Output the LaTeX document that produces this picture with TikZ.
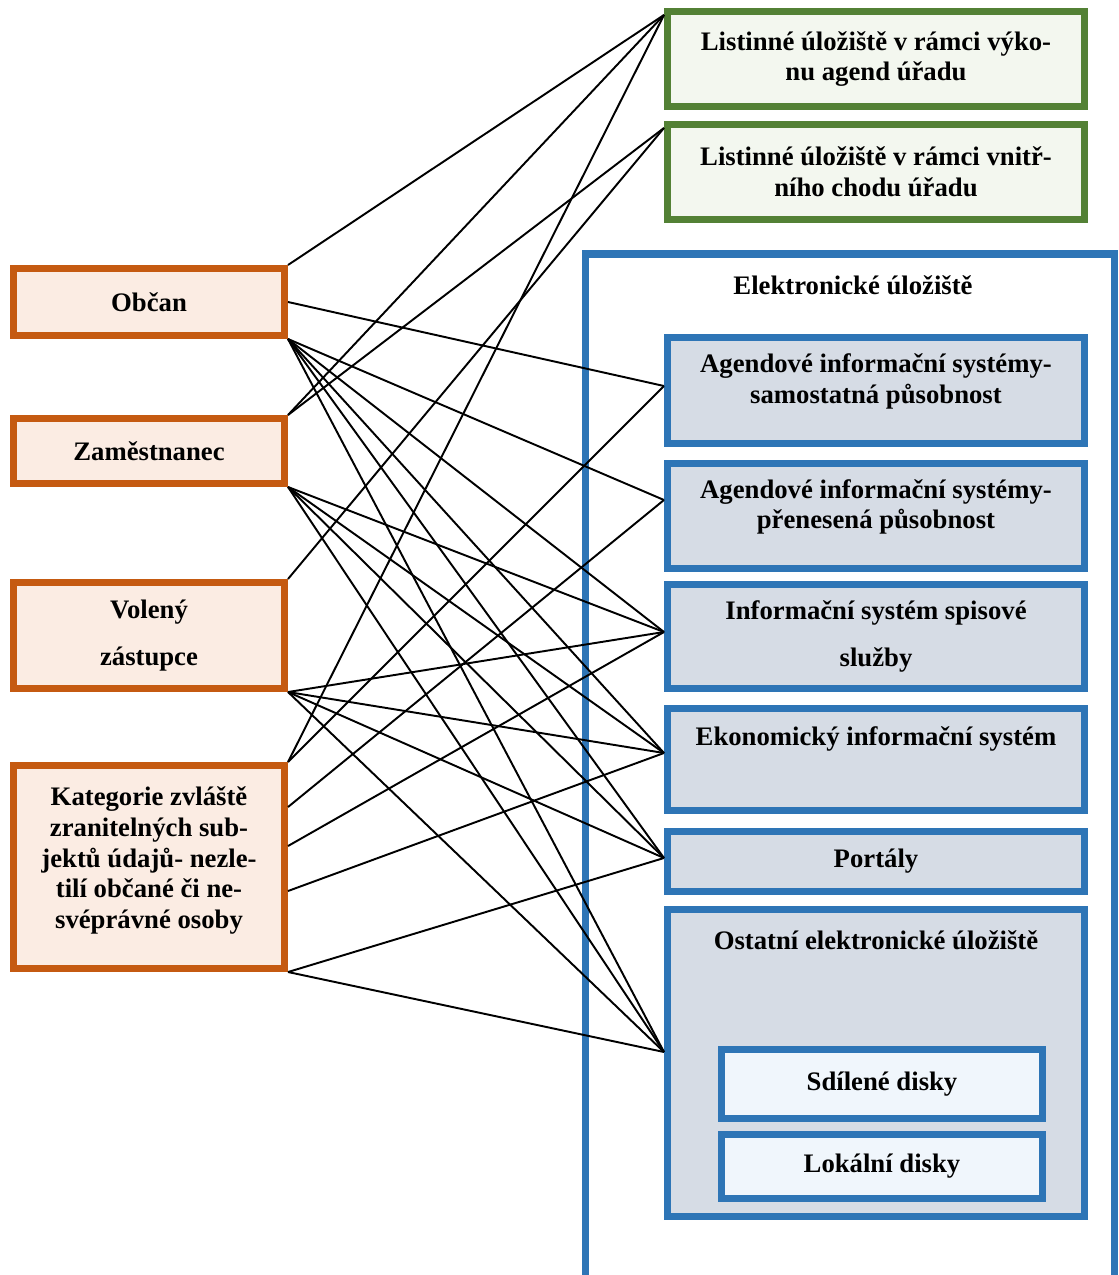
\documentclass[tikz,border=0pt]{standalone}
\usepackage{fontspec}
\setmainfont{Liberation Serif}
\definecolor{orbrd}{HTML}{C55A11}
\definecolor{orfill}{HTML}{FBECE3}
\definecolor{grbrd}{HTML}{538135}
\definecolor{grfill}{HTML}{F3F7EF}
\definecolor{blbrd}{HTML}{2E75B6}
\definecolor{blfill}{HTML}{D6DCE5}
\definecolor{dkfill}{HTML}{F0F6FC}

\begin{document}
\begin{tikzpicture}[
  every node/.style={font=\bfseries\fontsize{15.2}{17.4}\selectfont, align=center},
  person/.style={draw=orbrd, fill=orfill, line width=4pt, minimum width=5.42cm},
  paper/.style={draw=grbrd, fill=grfill, line width=4pt, minimum width=8.34cm, minimum height=1.9cm},
  system/.style={draw=blbrd, fill=blfill, line width=4pt, minimum width=8.34cm},
  disk/.style={draw=blbrd, fill=dkfill, line width=4pt, minimum width=6.42cm},
  link/.style={line width=1.1pt}]
\useasboundingbox (0,0) rectangle (22.36,-25.5);
\draw[draw=blbrd, line width=4pt] (11.71,-5.08) rectangle (22.29,-26.5);
\node at (17.06,-5.70) (elt) {Elektronické úložiště};

\node[person, minimum height=1.34cm] at (2.98,-6.04) (ob) {Občan};
\node[person, minimum height=1.30cm] at (2.98,-9.02) (zam) {Zaměstnanec};
\node[person, minimum height=2.12cm] at (2.98,-12.71) (vol) {Volený\\[9pt]zástupce};
\node[person, minimum height=4.06cm] at (2.98,-17.34) (kat) {Kategorie zvláště\\zranitelných sub-\\jektů údajů- nezle-\\tilí občané či ne-\\svéprávné osoby\\[-12pt]\strut};

\node[paper] at (17.52,-1.18) (l1) {Listinné úložiště v rámci výko-\\nu agend úřadu};
\node[paper] at (17.52,-3.44) (l2) {Listinné úložiště v rámci vnitř-\\ního chodu úřadu};

\node[system, minimum height=2.12cm] at (17.52,-7.81) (sam) {Agendové informační systémy-\\samostatná působnost\\[-9pt]\strut};
\node[system, minimum height=2.10cm] at (17.52,-10.32) (pre) {Agendové informační systémy-\\přenesená působnost\\[-9pt]\strut};
\node[system, minimum height=2.08cm] at (17.52,-12.73) (spi) {Informační systém spisové\\[9pt]služby};
\node[system, minimum height=2.04cm] at (17.52,-15.19) (eko) {Ekonomický informační systém\\[4pt]\strut};
\node[system, minimum height=1.20cm] at (17.52,-17.23) (por) {Portály};
\node[system, minimum height=6.14cm] at (17.52,-21.26) (ost) {};
\node at (17.52,-18.80) (ostt) {Ostatní elektronické úložiště};
\node[disk, minimum height=1.38cm] at (17.64,-21.68) (sdi) {Sdílené disky};
\node[disk, minimum height=1.28cm] at (17.64,-23.33) (lok) {Lokální disky};

\coordinate (l1-in) at ([yshift=-0.14cm]l1.north west);
\coordinate (l2-in) at ([yshift=-0.14cm]l2.north west);
\coordinate (sam-in) at ([yshift=0.09cm]sam.west);
\coordinate (pre-in) at ([yshift=0.32cm]pre.west);
\coordinate (spi-in) at ([yshift=0.09cm]spi.west);
\coordinate (eko-in) at ([yshift=0.13cm]eko.west);
\coordinate (por-in) at ([yshift=0.07cm]por.west);
\coordinate (ost-in) at ([yshift=0.22cm]ost.west);
\coordinate (kat-a) at ([yshift=1.2cm]kat.east);
\coordinate (kat-b) at ([yshift=0.42cm]kat.east);
\coordinate (kat-c) at ([yshift=-0.48cm]kat.east);

\foreach \a/\b in {ob.north east/l1-in, ob.east/sam-in,
  ob.south east/pre-in, ob.south east/spi-in, ob.south east/eko-in, ob.south east/por-in, ob.south east/ost-in,
  zam.north east/l1-in, zam.north east/l2-in,
  zam.south east/spi-in, zam.south east/eko-in, zam.south east/por-in, zam.south east/ost-in,
  vol.north east/l2-in,
  vol.south east/spi-in, vol.south east/eko-in, vol.south east/por-in, vol.south east/ost-in,
  kat.north east/l1-in, kat.north east/sam-in, kat-a/pre-in, kat-b/spi-in, kat-c/eko-in,
  kat.south east/por-in, kat.south east/ost-in}
  \draw[link] (\a) -- (\b);
\end{tikzpicture}
\end{document}
